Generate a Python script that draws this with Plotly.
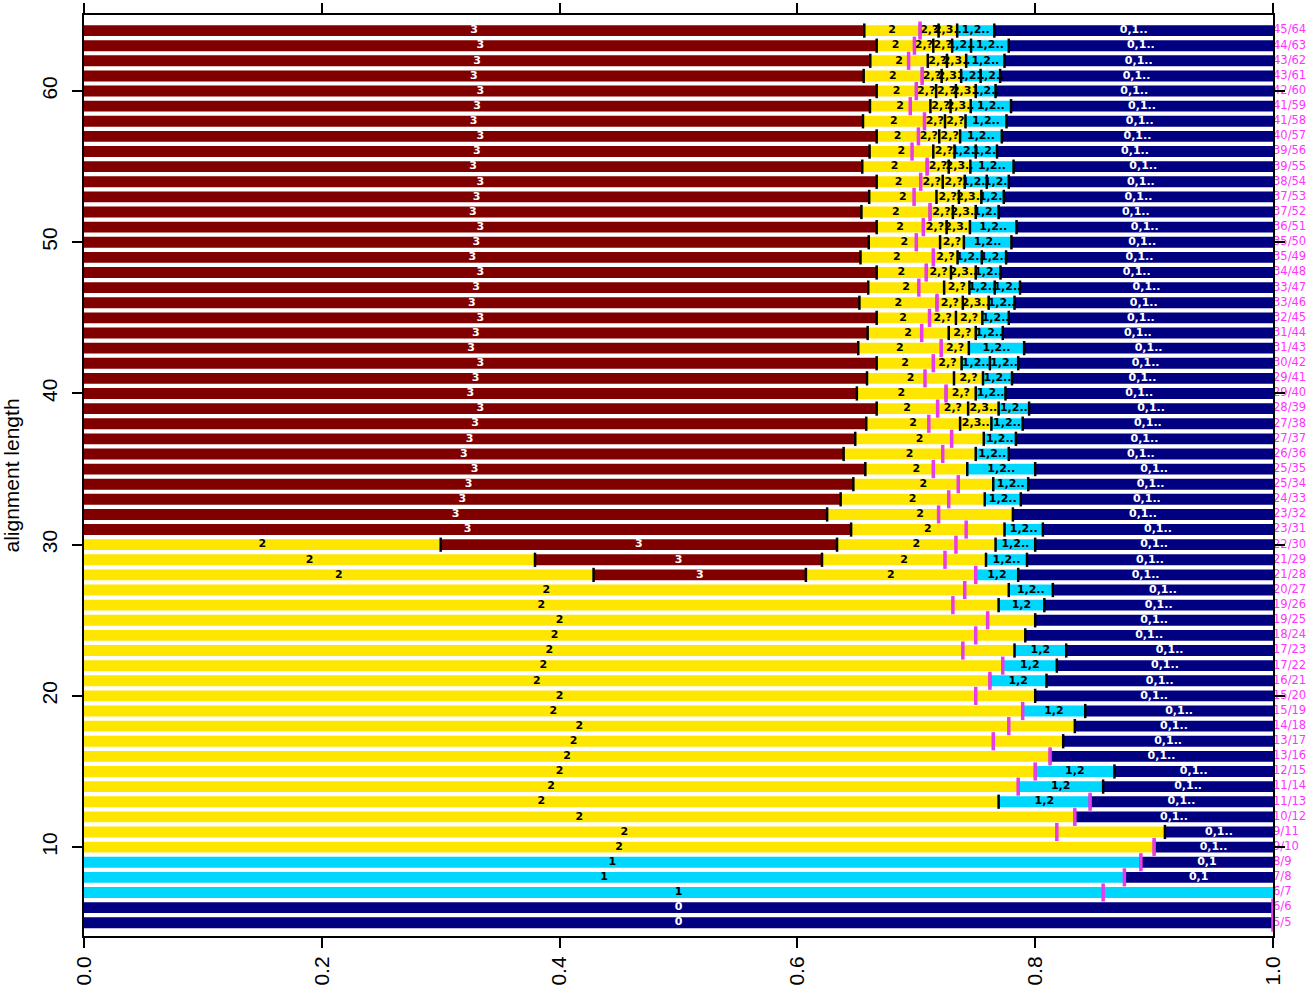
import plotly.graph_objects as go

# ---- data -------------------------------------------------------------
lengths = [64, 63, 62, 61, 60, 59, 58, 57, 56, 55, 54, 53, 52, 51, 50, 49, 48, 47,
           46, 45, 44, 43, 42, 41, 40, 39, 38, 37, 36, 35, 34, 33, 32, 31, 30, 29,
           28, 27, 26, 25, 24, 23, 22, 21, 20, 19, 18, 17, 16, 15, 14, 13, 12, 11,
           10, 9, 8, 7, 6, 5]
numerators = [45, 44, 43, 43, 42, 41, 41, 40, 39, 39, 38, 37, 37, 36, 35, 35, 34, 33,
              33, 32, 31, 31, 30, 29, 29, 28, 27, 27, 26, 25, 25, 24, 23, 23, 22, 21,
              21, 20, 19, 19, 18, 17, 17, 16, 15, 15, 14, 13, 13, 12, 11, 11, 10, 9,
              9, 8, 7, 6, 6, 5]
# cumulative segment end points (in positions out of the alignment length)
seg_ends = [
    [42, 45, 46, 47, 49, 64],
    [42, 44, 45, 46, 47, 49, 63],
    [41, 44, 45, 46, 48, 62],
    [40, 43, 44, 45, 46, 47, 61],
    [40, 42, 43, 44, 45, 46, 60],
    [39, 42, 43, 44, 46, 59],
    [38, 41, 42, 43, 45, 58],
    [38, 40, 41, 42, 44, 57],
    [37, 40, 41, 42, 43, 56],
    [36, 39, 40, 41, 43, 55],
    [36, 38, 39, 40, 41, 42, 54],
    [35, 38, 39, 40, 41, 53],
    [34, 37, 38, 39, 40, 52],
    [34, 36, 37, 38, 40, 51],
    [33, 36, 37, 39, 50],
    [32, 35, 36, 37, 38, 49],
    [32, 34, 35, 36, 37, 48],
    [31, 34, 35, 36, 37, 47],
    [30, 33, 34, 35, 36, 46],
    [30, 32, 33, 34, 35, 45],
    [29, 32, 33, 34, 44],
    [28, 31, 32, 34, 43],
    [28, 30, 31, 32, 33, 42],
    [27, 30, 31, 32, 41],
    [26, 29, 30, 31, 40],
    [26, 28, 29, 30, 31, 39],
    [25, 28, 29, 30, 38],
    [24, 28, 29, 37],
    [23, 27, 28, 36],
    [23, 26, 28, 35],
    [22, 26, 27, 34],
    [21, 25, 26, 33],
    [20, 25, 32],
    [20, 24, 25, 31],
    [9, 19, 23, 24, 30],
    [11, 18, 22, 23, 29],
    [12, 17, 21, 22, 28],
    [21, 22, 27],
    [20, 21, 26],
    [20, 25],
    [19, 24],
    [18, 19, 23],
    [17, 18, 22],
    [16, 17, 21],
    [16, 20],
    [15, 16, 19],
    [15, 18],
    [14, 17],
    [13, 16],
    [12, 13, 15],
    [11, 12, 14],
    [10, 11, 13],
    [10, 12],
    [10, 11],
    [9, 10],
    [8, 9],
    [7, 8],
    [7],
    [6],
    [5],
]
seg_labels = [
    ["3", "2", "2,?", "2,3..", "1,2..", "0,1.."],
    ["3", "2", "2,?", "2,?", "1,2..", "1,2..", "0,1.."],
    ["3", "2", "2,?", "2,3..", "1,2..", "0,1.."],
    ["3", "2", "2,?", "2,3..", "1,2..", "1,2..", "0,1.."],
    ["3", "2", "2,?", "2,?", "2,3..", "1,2..", "0,1.."],
    ["3", "2", "2,?", "2,3..", "1,2..", "0,1.."],
    ["3", "2", "2,?", "2,?", "1,2..", "0,1.."],
    ["3", "2", "2,?", "2,?", "1,2..", "0,1.."],
    ["3", "2", "2,?", "1,2..", "1,2..", "0,1.."],
    ["3", "2", "2,?", "2,3..", "1,2..", "0,1.."],
    ["3", "2", "2,?", "2,?", "1,2..", "1,2..", "0,1.."],
    ["3", "2", "2,?", "2,3..", "1,2..", "0,1.."],
    ["3", "2", "2,?", "2,3..", "1,2..", "0,1.."],
    ["3", "2", "2,?", "2,3..", "1,2..", "0,1.."],
    ["3", "2", "2,?", "1,2..", "0,1.."],
    ["3", "2", "2,?", "1,2..", "1,2..", "0,1.."],
    ["3", "2", "2,?", "2,3..", "1,2..", "0,1.."],
    ["3", "2", "2,?", "1,2..", "1,2..", "0,1.."],
    ["3", "2", "2,?", "2,3..", "1,2..", "0,1.."],
    ["3", "2", "2,?", "2,?", "1,2..", "0,1.."],
    ["3", "2", "2,?", "1,2..", "0,1.."],
    ["3", "2", "2,?", "1,2..", "0,1.."],
    ["3", "2", "2,?", "1,2..", "1,2..", "0,1.."],
    ["3", "2", "2,?", "1,2..", "0,1.."],
    ["3", "2", "2,?", "1,2..", "0,1.."],
    ["3", "2", "2,?", "2,3..", "1,2..", "0,1.."],
    ["3", "2", "2,3..", "1,2..", "0,1.."],
    ["3", "2", "1,2..", "0,1.."],
    ["3", "2", "1,2..", "0,1.."],
    ["3", "2", "1,2..", "0,1.."],
    ["3", "2", "1,2..", "0,1.."],
    ["3", "2", "1,2..", "0,1.."],
    ["3", "2", "0,1.."],
    ["3", "2", "1,2..", "0,1.."],
    ["2", "3", "2", "1,2..", "0,1.."],
    ["2", "3", "2", "1,2..", "0,1.."],
    ["2", "3", "2", "1,2", "0,1.."],
    ["2", "1,2..", "0,1.."],
    ["2", "1,2", "0,1.."],
    ["2", "0,1.."],
    ["2", "0,1.."],
    ["2", "1,2", "0,1.."],
    ["2", "1,2", "0,1.."],
    ["2", "1,2", "0,1.."],
    ["2", "0,1.."],
    ["2", "1,2", "0,1.."],
    ["2", "0,1.."],
    ["2", "0,1.."],
    ["2", "0,1.."],
    ["2", "1,2", "0,1.."],
    ["2", "1,2", "0,1.."],
    ["2", "1,2", "0,1.."],
    ["2", "0,1.."],
    ["2", "0,1.."],
    ["2", "0,1.."],
    ["1", "0,1"],
    ["1", "0,1"],
    ["1"],
    ["0"],
    ["0"],
]
x_ticks = [0.0, 0.2, 0.4, 0.6, 0.8, 1.0]
x_tick_text = ["0.0", "0.2", "0.4", "0.6", "0.8", "1.0"]
y_ticks = [10, 20, 30, 40, 50, 60]

# ---- styling ----------------------------------------------------------
fill = {"3": "#800000", "2": "#FFE600", "1": "#00D7FF", "0": "#000080"}
ink = {"3": "white", "2": "black", "1": "black", "0": "white"}
BAR_W = 0.72
MAGENTA_TICK = "#E83CE8"
MAGENTA_TEXT = "#FF33FF"

fig = go.Figure()

max_segs = max(len(s) for s in seg_ends)
for i in range(max_segs):
    ys, bases, widths, cols = [], [], [], []
    for n, ends, labs in zip(lengths, seg_ends, seg_labels):
        if i < len(ends):
            start = 0 if i == 0 else ends[i - 1]
            ys.append(n)
            bases.append(start / n)
            widths.append((ends[i] - start) / n)
            cols.append(fill[labs[i][0]])
    fig.add_trace(go.Bar(orientation="h", y=ys, x=widths, base=bases,
                         width=BAR_W, marker=dict(color=cols, line=dict(width=0)),
                         hoverinfo="skip"))

# segment labels
tx, ty, tt, tc = [], [], [], []
for n, ends, labs in zip(lengths, seg_ends, seg_labels):
    prev = 0
    for e, lab in zip(ends, labs):
        tx.append((prev + e) / 2 / n)
        ty.append(n)
        tt.append(lab)
        tc.append(ink[lab[0]])
        prev = e
fig.add_trace(go.Scatter(x=tx, y=ty, mode="text", text=tt,
                         textfont=dict(family="DejaVu Sans", size=11, color=tc, weight="bold"),
                         hoverinfo="skip"))

# black boundary ticks
bx, by = [], []
for n, ends in zip(lengths, seg_ends):
    for e in ends[:-1]:
        bx += [e / n, e / n, None]
        by += [n - 0.47, n + 0.47, None]
fig.add_trace(go.Scatter(x=bx, y=by, mode="lines",
                         line=dict(color="black", width=2.5), hoverinfo="skip"))

# magenta ticks at k/n
mx, my = [], []
for n, k in zip(lengths, numerators):
    mx += [k / n, k / n, None]
    my += [n - 0.6, n + 0.6, None]
fig.add_trace(go.Scatter(x=mx, y=my, mode="lines", cliponaxis=False,
                         line=dict(color=MAGENTA_TICK, width=3.5), hoverinfo="skip"))

# right-hand labels
fig.add_trace(go.Scatter(x=[1.0] * len(lengths), y=lengths, mode="text",
                         text=[f"{k}/{n}" for k, n in zip(numerators, lengths)],
                         textposition="middle right", cliponaxis=False,
                         textfont=dict(family="DejaVu Sans", size=11.5, color=MAGENTA_TEXT),
                         hoverinfo="skip"))

axis_font = dict(family="Liberation Sans, Arial, sans-serif", size=21, color="black")
fig.update_layout(
    width=1314, height=995,
    margin=dict(l=84, r=41, t=15, b=59, autoexpand=False),
    plot_bgcolor="white", paper_bgcolor="white",
    showlegend=False, barmode="overlay",
    xaxis=dict(range=[0, 1], tickvals=x_ticks, ticktext=x_tick_text,
               tickangle=-90, ticks="outside", ticklen=10, tickwidth=1.5,
               tickcolor="black", showline=True, linecolor="black", linewidth=2,
               mirror="ticks", showgrid=False, zeroline=False, automargin=False,
               tickfont=axis_font, ticklabelstandoff=0),
    yaxis=dict(range=[4.12, 65.03], tickvals=y_ticks, tickangle=-90,
               ticks="outside", ticklen=10, tickwidth=1.5, tickcolor="black",
               showline=True, linecolor="black", linewidth=2, mirror="ticks",
               showgrid=False, zeroline=False, tickfont=axis_font, automargin=False,
               ticklabelstandoff=7,
               title=dict(text="alignment length", font=axis_font, standoff=14)),
)

fig.write_html(
    "out.html",
    config={"displayModeBar": False},
    post_script="document.body.style.margin='0';document.body.style.overflow='hidden';",
)
